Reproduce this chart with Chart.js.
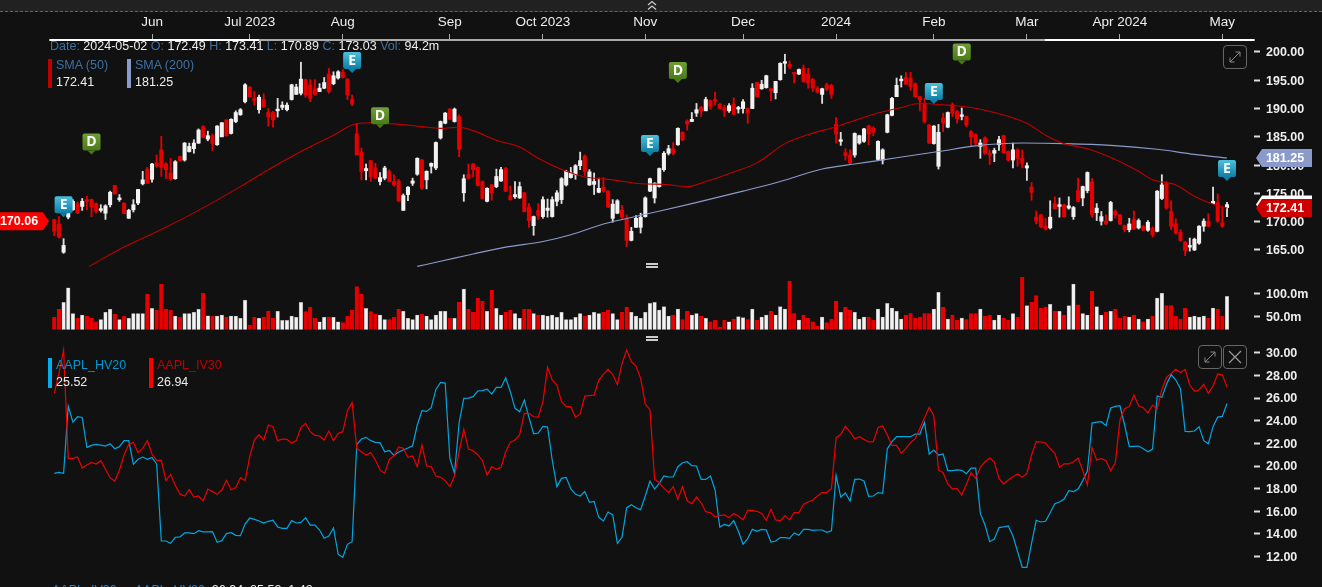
<!DOCTYPE html>
<html>
<head>
<meta charset="utf-8">
<title>AAPL</title>
<script src="https://cdn.jsdelivr.net/npm/chart.js@4/dist/chart.umd.js"></script>
<style>
  html, body { margin: 0; padding: 0; background: #111; overflow: hidden; width: 1322px; height: 587px; }
  #wrap { position: relative; width: 1322px; height: 587px; font: 12.5px "Liberation Sans", Arial, sans-serif; color: #eee; }
  canvas { position: absolute; left: 0; top: 0; }
  .topband { position: absolute; left: 0; top: 0; width: 1322px; height: 11px; background: #212121; border-bottom: 1px dashed #666; }
  .txt { position: absolute; white-space: nowrap; line-height: 14px; }
  .lab { color: #3d70a3; }
  .swatch { position: absolute; width: 4px; }
  .grip { position: absolute; left: 646px; width: 12px; height: 1.5px; background: #ccc; box-shadow: 0 3px 0 #ccc; }
  .btn { position: absolute; width: 22px; height: 22px; border: 1px solid #666; border-radius: 4px; }
  svg { position: absolute; }
</style>
</head>
<body>
<div id="wrap">
  <canvas id="chart" width="1322" height="587"></canvas>
  <div class="topband"></div>
  <svg style="left:646px;top:0" width="12" height="11" fill="none" stroke="#ccc" stroke-width="1.2"><polyline points="2,5 6,1.5 10,5"/><polyline points="2,9.5 6,6 10,9.5"/></svg>

  <div class="txt" style="left:50px;top:39px"><span class="lab">Date:</span> 2024-05-02 <span class="lab">O:</span> 172.49 <span class="lab">H:</span> 173.41 <span class="lab">L:</span> 170.89 <span class="lab">C:</span> 173.03 <span class="lab">Vol:</span> 94.2m</div>

  <div class="swatch" style="left:48px;top:59px;height:29px;background:#c00000"></div>
  <div class="txt lab" style="left:56px;top:58px">SMA (50)</div>
  <div class="txt" style="left:56px;top:75px">172.41</div>
  <div class="swatch" style="left:127px;top:59px;height:29px;background:#8a9bcb"></div>
  <div class="txt lab" style="left:135px;top:58px">SMA (200)</div>
  <div class="txt" style="left:135px;top:75px">181.25</div>

  <div class="swatch" style="left:48px;top:358px;height:30px;background:#00aeef"></div>
  <div class="txt" style="left:56px;top:358px;color:#0097d0">AAPL_HV20</div>
  <div class="txt" style="left:56px;top:375px">25.52</div>
  <div class="swatch" style="left:149px;top:358px;height:30px;background:#f00"></div>
  <div class="txt" style="left:157px;top:358px;color:#c00000">AAPL_IV30</div>
  <div class="txt" style="left:157px;top:375px">26.94</div>

  <div class="grip" style="top:263px"></div>
  <div class="grip" style="top:336px"></div>

  <div class="btn" style="left:1223px;top:45px"></div>
  <svg style="left:1223px;top:45px" width="24" height="24" fill="none" stroke="#888" stroke-width="1"><path d="M7 17 L17 7 M12.5 7 H17 V11.5 M7 12.5 V17 H11.5"/></svg>
  <div class="btn" style="left:1198px;top:345px"></div>
  <svg style="left:1198px;top:345px" width="24" height="24" fill="none" stroke="#888" stroke-width="1"><path d="M7 17 L17 7 M12.5 7 H17 V11.5 M7 12.5 V17 H11.5"/></svg>
  <div class="btn" style="left:1223px;top:345px"></div>
  <svg style="left:1223px;top:345px" width="24" height="24" fill="none" stroke="#999" stroke-width="1.2"><path d="M6 6 L18 18 M18 6 L6 18"/></svg>

  <div class="txt" style="left:52px;top:583px"><span style="color:#2f7fc0">AAPL_IV30</span> &nbsp;- &nbsp;<span style="color:#2f7fc0">AAPL_HV20</span> &nbsp;26.94 &nbsp;25.52 &nbsp;1.42</div>
</div>

<script>
const monthIdx = [21, 42, 62, 85, 105, 127, 148, 168, 189, 209, 229, 251]
const monthLabels = ['Jun', 'Jul 2023', 'Aug', 'Sep', 'Oct 2023', 'Nov', 'Dec', '2024', 'Feb', 'Mar', 'Apr 2024', 'May']
const priceTicks = [200, 195, 190, 185, 180, 175, 170, 165]
const volumeTicks = [100, 50]
const ivTicks = [30, 28, 26, 24, 22, 20, 18, 16, 14, 12]

const opens = [
  170.35,169.6,164.6,170.8,172.1,173.2,172.7,173.9,173.9,173.2,
  172,171.5,173,176.4,173.9,173.3,170.6,172.1,173.3,176.7,
  179.3,177.5,180.4,182.7,180.2,178.6,177.6,181.5,180.9,182.4,
  182.9,183.9,186.8,184.6,185.2,183.6,185,188,185.6,187.7,
  188.9,191.2,193.8,191.8,189.8,191.6,189.3,189.3,189.6,190.2,
  189.8,191.6,192.5,192.7,195.1,194.2,193.5,193,193.6,196.1,
  194.4,195.4,196.4,195.2,191.6,185.5,182.3,179,180.8,179.5,
  177.1,177.7,178.9,177.1,177.2,172,174.8,176.8,178.4,180.9,
  177.4,179.8,179.5,184.8,187.4,189.9,187.7,188.6,175.1,178.3,
  180.2,179.6,177.1,173.6,176.5,176.2,177.2,179.4,174.6,174.4,
  174.2,175.1,172.6,169.3,172,170.9,172,170.9,173.6,173.9,
  176.5,177.8,178.3,179.9,181.6,176.5,176.6,175.2,176.1,175.4,
  170.6,171.5,172,170.5,166.7,169,169,170.9,175.4,174.2,
  176.2,179.2,182.1,182.9,183.6,185.8,187.8,187.7,189.2,190.2,
  189.6,191.4,191.6,190.8,190.2,189.6,190.8,189.9,190,190,
  190,194.6,193.5,193.7,193.5,192.8,195.1,198,197.8,196.4,
  196.1,197.1,196.1,195.2,193.6,192.5,194.2,194.1,187.2,184.2,
  182.2,181.8,181.8,183.9,184.2,186.9,186.5,181,180.9,185.8,
  188.8,192.1,194.9,195.5,195.4,194.4,192.1,190.9,187.1,183.8,
  179.8,188.3,186.7,190.7,189.5,188.6,188.6,185.9,185.4,183.3,
  184.8,182.1,182.1,183.6,185.2,182.4,180.9,182.7,181.2,179.5,
  176.1,170.8,171.2,169.2,168.9,173.2,172.7,173,172.4,170.9,
  175.5,174.2,175.5,177,171.6,170.1,170.1,170.2,171.8,171.2,
  169.3,168.6,170.4,168.9,169.2,168.5,168.8,168.3,174.1,176.8,
  171.8,169.6,168.1,166.4,165.5,165,166.2,169.2,170.1,173.2,
  173.4,169.8,172.49
]
const highs = [
  170.4,170.9,167,171.5,173.9,173.5,174.1,174.5,174,173.3,
  173,173,175.4,176.4,174.8,173.3,172.2,173.9,175.7,178.9,
  179.6,180.3,181.8,185.1,180.4,181.2,180.8,181.6,184,183.9,
  184.5,186.4,187,186,185.5,187,187.5,188,188.2,189.6,
  190,194.4,193.9,193,192.4,192.6,190,189.5,191.8,191.2,
  191,194.3,194.3,198.2,195.2,195.1,195.1,194.4,195.5,197.1,
  196.5,196.7,196.9,195.3,192.4,187.4,183,180.2,180.8,180.3,
  178.7,179.8,179.2,178.3,177.5,174.9,176.2,177.7,181.3,181,
  179,180.4,184.1,187.8,189.3,190,190.1,188.9,178.3,180.2,
  180.3,179.7,177.2,176,176.6,179.3,179.6,179.6,176.3,177.1,
  177,175.2,173.2,171,173.2,174.4,174,174.4,175.5,177.8,
  179.1,179.6,180.1,182.3,181.8,179.2,178.6,177.7,177.8,175.5,
  173.9,173.9,172.9,171.2,169,171.1,171.5,174.4,177.7,176.9,
  179.5,182.4,183.5,184,186.6,185.9,188,189.3,190.9,190.4,
  192,191.5,192.9,190.9,190.6,190.9,191.9,190.4,191.6,190.1,
  194.4,194.7,195,195.9,193.6,194.8,198.1,199.6,198.4,196.4,
  197,197.7,197.1,195.3,193.9,193.6,194.5,194.3,188.4,185.8,
  182.9,182.7,185.7,185.3,186.5,187.1,186.8,184.3,182.9,189,
  192,195.4,195.8,196.4,196.4,194.5,192.2,191.8,187.2,187,
  187.2,189.2,189.4,191,189.7,190.1,188.7,186.1,185.5,184.5,
  185,182.7,183,185.1,185.3,182.5,183.9,182.9,182.7,180.4,
  176.9,171.9,171.3,170.6,173.7,174.4,174.2,173.1,174.4,172.7,
  177.7,176.3,178.8,177.6,173.2,171.8,171.2,173.6,172.1,171.3,
  169.4,170.6,171.9,170.5,169.3,170.2,169.1,175.5,178.3,177.1,
  173.7,170.5,168.6,166.5,167.1,167.1,169.3,170.5,171.4,176.1,
  174.9,172.6,173.41
]
const lows = [
  167.5,167.1,164.4,170.5,172,171.4,172,172.1,170.9,171.5,
  171.7,170.4,172.6,174.9,173.6,171.4,170.6,171.7,173,176.5,
  176.8,177,179.6,178,177.6,177.3,177.5,180.7,180.7,182.3,
  182.1,183.8,184.8,184.3,182.6,183.5,185,185.1,185.5,187.5,
  188.8,191,192,190.6,189.2,190.2,186.9,186.7,188.5,189.8,
  189.6,191.5,192.5,192.4,192,191.2,192.4,193,193.5,192.7,
  194.2,195.2,195.4,191.6,190.5,181.8,177.4,177.4,177.1,177.6,
  176.5,177.4,177,176.3,173.5,172,173.7,176.4,178.2,175.7,
  175.8,178.6,179.2,184.6,187.3,188,187.6,181.5,173.6,177.5,
  177.9,176.3,174,173.5,173.8,176,177.1,175.3,173.8,174.1,
  174.1,171.7,169,167.6,170.4,170.6,170.8,170.8,172.8,173.2,
  176.3,177.7,177.5,179.2,178.1,176.4,174.8,175.1,175.2,172.5,
  169.9,171.4,170.5,165.6,166.6,169,168,170.8,175.3,173.3,
  176.1,178.9,181.8,181.8,183.5,184.3,186.2,187.7,188.6,188.6,
  189.6,189.9,190.6,189.9,188.6,189.3,188.9,189.2,189.2,187.4,
  190,192,193.4,193.6,191.4,191.7,195,196.2,197,194.5,
  196,194.6,193.6,193,192.7,190.9,193.2,191.8,183.9,183.5,
  180.9,180.1,181.4,183.7,184,183.6,185.2,180.8,180.2,185.7,
  188.7,192.1,193.8,194.3,193.2,192,189.6,187.4,183.8,183.7,
  179.3,185.9,186.6,188.6,187.4,188,186.8,183.4,183.6,181.2,
  181.9,180.1,180.6,182.6,182.1,180.7,179.5,179.8,179.5,177.3,
  173.8,169.6,168.9,168.5,168.7,172.2,170.8,170.8,172.2,170.4,
  173.5,172.8,175.1,170.8,170.2,169.4,169.5,170.1,170.6,169.5,
  168.2,168.2,168.6,168.7,168.4,168.3,167.3,168.2,173.9,172.2,
  168.6,167.8,166.5,164,164.8,164.9,166,168.3,169.1,173.2,
  169.9,169,170.89
]
const closes = [
  168.3,167.3,165.8,171.5,173.6,171.5,173.6,173.6,172.6,171.8,
  172.3,172.8,175.2,174.9,174.2,171.4,172,173,175.7,177.4,
  176.8,180.2,179.8,179.6,179.2,177.5,180.6,180.8,183.9,183.3,
  183.9,186.2,184.9,185.2,183.8,186.9,187.5,185.2,188.1,189.3,
  189.8,194.2,192.1,191.4,192,190.3,188.5,188,189.9,190.6,
  190.6,194.2,193.8,195.2,192.4,191.8,192.5,193.6,194.6,193,
  195.8,196.5,195.5,192.4,190.8,181.8,178.9,179.4,177.9,177.7,
  177.8,179.5,177.1,176.5,173.7,174.6,176.1,177.2,181.2,175.9,
  178.9,180.3,184,187.7,189.2,188.1,189.9,182.8,177.6,177.7,
  179.2,176.4,174.1,175.9,175.1,178,179.2,175.4,173.9,174.8,
  176.2,171.8,170.2,170.9,171.1,173.9,172.4,173.9,175.1,177.6,
  178.9,178.6,179.9,180.8,178.9,178.8,177.1,175.9,175.4,172.6,
  173.1,173.7,170.8,166.7,168.3,170.6,170.8,174.2,177.6,176.8,
  179.4,182.1,182.9,182.1,186.5,184.5,187.3,188.1,189.8,189.6,
  191.6,190.4,191.4,190,189.6,190.5,189,190.2,191.2,189.2,
  193.6,192.1,194.3,195.8,193.1,194.8,198,198.3,197.4,196.1,
  196.9,194.8,194.5,193.6,192.9,193.5,193.4,192.5,185.5,184.5,
  181.7,180.4,185.6,185.2,186.4,185.5,185.8,184.2,182.7,188.9,
  191.8,194.1,195.2,194.3,193.9,192.1,191.5,187.7,183.9,186.9,
  185.8,187.5,189.3,189.2,188.2,188.9,187.1,185,183.9,183.9,
  182.1,181.8,182.6,184.5,182.2,180.9,182.7,181.2,180.3,179.9,
  175.2,170.1,169.1,168.7,170.8,172.3,173,170.9,172.8,172.5,
  173.6,176.2,178.7,171.2,172.4,170.9,169.6,173.4,171.2,169.6,
  168.6,169.6,168.7,170.2,168.5,169.9,167.7,175.4,176.5,172.4,
  169.2,168,166.7,164.9,165.8,166.9,169.2,170.1,169.2,173.6,
  170.1,169.2,173.03
]
const volume = [
  48.6,66,81,113,57,46.4,53.7,51.5,46.4,39,
  44,59.5,66,55.9,44,51.5,46.4,57,57,57,
  98.6,68,64.5,121,66,64.5,51.5,48.6,57,57,
  59.5,66,100.8,52,51.5,51.5,53.7,48.6,51.5,51.5,
  46.4,86,32,48.6,46.4,48.6,62.4,46.4,61.7,42,
  42,51.5,48.6,81,61,70.3,46.4,39,48.6,48.6,
  48.6,39,37,51.5,64.5,115.3,98.6,68,61,55.9,
  53.7,44,44,48.6,66,61.7,46.4,44,53.7,55.9,
  51.5,44,53.7,61.7,61.7,46.4,46.4,81,110,66,
  59.5,90.6,83.4,61.7,108,68,53.7,59.5,64.5,57,
  46.4,66,66,57,53.7,53.7,51.5,53.7,48.6,59.5,
  44,44,48.6,57,51.5,53.7,59.5,57,59.5,64.5,
  57,44,59.5,71,59.5,51.5,46.4,59.5,79,81,
  64.5,71.8,51.5,53.7,66.7,44,61.7,53.7,57,51.5,
  46.4,39,42.8,26.9,42.8,39,45,50,47.9,44,
  66.7,42.8,49.3,53.7,62.4,53.7,71.8,66.7,127.6,57,
  42.8,53.7,46.4,39,29.7,49.3,37,45,84,59.5,
  70.3,64.5,59.5,45,49.3,49.3,42.8,66.7,49.3,79,
  69,61.7,45,53.7,57,47.2,49.3,57,57,66.7,
  103,71,45,53.7,42.8,47.2,44,57,57,66.7,
  51.5,53.7,42.8,53.7,47.2,42.8,57,49.3,135.6,74,
  81,95.7,69,71,76.9,61.7,61.7,53.7,74,121,
  76,57,53.7,105.9,71.8,53.7,59.5,61.7,66.7,47.2,
  51.5,49.3,53.7,45,39,45,51.5,90.6,100.8,74,
  74,51.5,45,69,49.3,51.5,49.3,51.5,47.2,69,
  66.7,51.5,94.2
]
const hv20 = [
  19.35,19.44,19.35,25.29,23.88,24.35,24.29,21.65,21.82,21.91,
  21.85,21.76,21.97,21.53,21.71,22.24,22.24,20.15,20.59,20.79,
  20.59,20.76,20.18,13.38,13.38,13.18,13.71,13.74,14.09,14.09,
  14.03,14.29,14.18,14.18,14.21,13.26,13.41,14.03,14.12,13.88,
  13.85,14.88,15.41,15.29,15.15,14.97,15.12,15.21,14.62,14.5,
  14.5,15.18,14.97,15.03,15.44,14.79,14.79,14.35,13.62,13.82,
  14.53,12.21,11.94,13.09,13.32,21.91,22.38,22.53,22.24,22.09,
  22.06,21.26,21.38,20.94,21.24,21.41,21.59,21.79,23.62,24.88,
  24.82,25.15,26.76,27.38,27.32,20.68,19.35,23.82,25.97,26,
  26.12,26.62,26.65,26.79,26.35,26.94,26.94,27.79,26.56,25.09,
  24.79,25.82,24.29,22.85,22.91,23.5,23.44,20.53,18.18,18.91,
  19,17.97,17.5,17.35,17.74,16.79,16.88,15.47,15.15,15.94,
  15.68,13.18,13.71,16.32,16.59,16.32,16.15,17.35,18.65,17.97,
  18.47,19.12,19.03,19.03,19.94,20.29,20.38,20.03,20,18.82,
  18.82,19.12,17.88,14.62,14.85,14.71,15.18,14.24,13.09,13.59,
  14.41,14.24,14.41,14.35,13.29,13.38,13.68,13.68,13.62,14.09,
  13.88,14.41,14.41,14.32,14.35,14.35,14.15,14.29,19.15,17.26,
  17.62,16.91,18.82,18.85,18.68,17.32,17.35,17.65,17.59,21.5,
  22.15,22.59,22.59,22.59,22.59,22.82,22.82,23.85,21.06,21.41,
  20.97,21.06,19.59,19.59,19.65,19.62,19.32,19.82,19.82,15.82,
  14.79,13.32,13.56,14.56,14.62,14.71,13.82,12.44,11.06,11.06,
  13.18,15.21,15.06,15.12,15.88,16.68,16.82,17.09,17.82,17.74,
  17.97,18.71,19.56,23.79,23.88,23.91,23.56,25.12,25.26,25.32,
  23.62,21.71,21.74,21.76,21.53,21.26,21.5,26.18,26.06,27.21,
  28.06,27.59,26.82,23.06,23.03,23.09,23.47,22.24,21.97,23.47,
  24.32,24.38,25.52
]
const iv30 = [
  26.41,28.18,30.24,20.68,20.68,20.79,19.82,20.09,20.32,20.18,
  20.47,19.71,18.97,18.65,19.65,20.97,21.91,22.09,21.18,21.56,
  22.24,21.06,20.5,20.5,18.71,19.26,18.29,17.53,17.35,17.91,
  17.26,17.35,16.91,17.97,17.74,17.5,17.88,18.74,17.91,18.09,
  18.97,18.71,20.82,22.32,22.76,22.29,23.62,23.47,22.24,22.38,
  22.35,22,22.24,23.41,23.76,23.03,22.71,22.65,22.29,23.09,
  22.24,22.88,23.03,24.88,25.62,21.56,21.24,20.97,21.18,20.53,
  19.65,19.35,20.59,20.88,21.68,21.56,20.76,20.88,19.94,21.85,
  20,19.94,19.12,19,18.71,18.18,19.12,21.26,23.24,21.5,
  21.35,21,20.47,19.18,19.94,19.71,19.88,21.26,22.09,22.29,
  22.76,24.65,24.65,24.35,24.32,25.68,28.71,27.59,27.15,25.68,
  25.24,25.24,24.29,24.59,26.18,26.21,26.26,27.59,28.09,28.53,
  28.09,27.18,29.06,30.24,29.21,28.82,27.74,25.47,24.97,18.82,
  18.53,18.03,17.65,18.18,17.06,18.18,16.91,16.68,17.26,16.76,
  15.97,15.88,15.5,15.62,15.68,15.44,15.82,15.59,15.26,16.09,
  16.09,16,15.82,15.21,16.18,15.26,15.15,15.62,15.24,15.88,
  15.88,16.62,16.82,17,17.35,17.65,17.68,18,22.5,22.79,
  23.5,23,22.41,22.59,22.35,22.12,22.15,23.38,23.56,22.74,
  21.82,21.82,21.12,21.56,22.06,22.41,23.32,24.26,25.18,24.44,
  19.65,19.41,18.41,17.97,18.03,17.44,18.38,19.41,18.91,19.88,
  20.38,20.71,20.35,18.91,18.41,18.76,19.06,19.29,19,19.35,
  20.97,22.15,22.12,22.03,21.53,21.12,19.88,20.18,20.18,20.35,
  20.71,19.59,18.32,21.62,20.53,20.65,20.47,19.59,20.29,24.06,
  25.06,25.26,26.26,25.32,25.15,24.68,25.38,25.06,26.76,27.82,
  28.18,28.53,28.24,28.53,27.15,26.59,26.71,27.21,26.41,27.06,
  28.12,28.06,26.94
]

// SMA lines read at the bars where the curve could be read
const sma50Idx = [7.5,14,23,31,40,46,53,60,64,68,73,79,83,87,90,95,100,104,110,114,120,126,131,136,140,146,151,157,162,168,172,177,182,186,192,197,202,209,213,217,222,228,233,236,241,245,248,252]
const sma50 = [162.1,165.1,168.6,172,176.2,179.2,182.4,185.3,187.1,187.5,187.3,186.8,186.5,186.7,186.1,184.4,183.2,181.2,178.9,177.9,177.4,176.7,176.6,176.2,177.1,178.8,180.4,183.8,185.4,186.8,187.9,189.2,190.2,190.9,190.6,190.2,189.3,187.4,185.3,183.8,182.9,181,178.9,177.4,176.5,174.5,173.4,172.41]
const sma200Idx = [78,83,90,97,105,111,118,127,137,148,156,165,172,177,185,190,198,208,217,227,237,245,252]
const sma200 = [162.1,163,164.3,165.5,166.5,167.7,169.6,171.3,173.2,175.4,177.1,179.3,180.2,180.8,181.8,182.4,183.4,183.9,183.8,183.5,182.8,181.9,181.25]

// dividend and earnings flags: bar and the price the pin points at
const earnIdx = [2, 64, 128, 189, 252]
const earnAt = [170.8, 196.3, 181.6, 190.8, 177.2]
const divIdx = [8, 70, 134, 195]
const divAt = [181.9, 186.5, 194.5, 197.8]

const lastPrice = 170.06
const smaLast = 172.41
const smaLongLast = 181.25
const closeLast = 173.03

const RED = '#e60000'
const WHITE = '#f2f2f2'
const isDown = closes.map((c, i) => c < opens[i])
const barColor = isDown.map(d => d ? RED : WHITE)
const bars = closes.map((c, i) => i)

function pin (ctx, x, tip, letter, top, bottom) {
  const g = ctx.createLinearGradient(0, tip - 21, 0, tip - 4)
  g.addColorStop(0, top)
  g.addColorStop(1, bottom)
  ctx.fillStyle = g
  ctx.beginPath()
  ctx.roundRect(x - 9, tip - 21, 18, 17, 2)
  ctx.fill()
  ctx.beginPath()
  ctx.moveTo(x - 4, tip - 4)
  ctx.lineTo(x + 4, tip - 4)
  ctx.lineTo(x, tip)
  ctx.fill()
  ctx.fillStyle = '#fff'
  ctx.font = 'bold 14px "Open Sans"'
  ctx.textAlign = 'center'
  ctx.textBaseline = 'middle'
  ctx.fillText(letter, x, tip - 12)
}

function tag (ctx, y, label, color, textColor, side) {
  ctx.fillStyle = color
  ctx.beginPath()
  if (side === 'left') {
    ctx.moveTo(0, y - 9)
    ctx.lineTo(43, y - 9)
    ctx.lineTo(49, y)
    ctx.lineTo(43, y + 9)
    ctx.lineTo(0, y + 9)
  } else {
    ctx.moveTo(1312, y - 9)
    ctx.lineTo(1262, y - 9)
    ctx.lineTo(1256, y)
    ctx.lineTo(1262, y + 9)
    ctx.lineTo(1312, y + 9)
  }
  ctx.closePath()
  ctx.fill()
  if (!label) return
  ctx.fillStyle = textColor
  ctx.font = 'bold 12.5px "Liberation Sans"'
  ctx.textAlign = 'center'
  ctx.textBaseline = 'middle'
  ctx.fillText(label, side === 'left' ? 19 : 1285, y + 0.5)
}

const overlays = {
  id: 'overlays',
  afterDraw (chart) {
    const { ctx, scales } = chart
    ctx.save()
    // brighter ends of the top rule
    ctx.fillStyle = '#fff'
    ctx.fillRect(50, 39, 209, 2)
    ctx.fillRect(1045, 39, 209, 2)

    earnIdx.forEach((b, i) => pin(ctx, scales.x.getPixelForValue(b), scales.price.getPixelForValue(earnAt[i]), 'E', '#4cc0dc', '#0f7ea6'))
    divIdx.forEach((b, i) => pin(ctx, scales.x.getPixelForValue(b), scales.price.getPixelForValue(divAt[i]), 'D', '#6f9f35', '#4a7a18'))

    tag(ctx, scales.price.getPixelForValue(lastPrice), lastPrice.toFixed(2), '#ff0000', '#fff', 'left')
    tag(ctx, scales.price.getPixelForValue(smaLongLast), smaLongLast.toFixed(2), '#8a9bcb', '#fff', 'right')
    tag(ctx, scales.price.getPixelForValue(closeLast), '', '#ffffff', '#fff', 'right')
    tag(ctx, scales.price.getPixelForValue(smaLast), smaLast.toFixed(2), '#cc0000', '#fff', 'right')
    ctx.restore()
  }
}

function yScale (stackWeight, min, max, tickValues, fmt) {
  return {
    type: 'linear',
    position: 'right',
    stack: 'panes',
    stackWeight,
    min,
    max,
    grid: { drawOnChartArea: false, drawTicks: true, tickLength: 6, tickColor: '#dddddd', tickWidth: 2 },
    border: { display: false },
    afterBuildTicks: scale => { scale.ticks = tickValues.map(v => ({ value: v })) },
    afterFit: scale => {
      scale.width = 68
      // no room kept for half a tick label, the panes fill the whole height
      scale.paddingTop = 0
      scale.paddingBottom = 0
    },
    ticks: {
      color: '#eeeeee',
      padding: 6,
      labelOffset: 1,
      autoSkip: false,
      font: { family: '"Liberation Sans"', size: 12.5, weight: 'bold' },
      callback: fmt
    }
  }
}

const ctx = document.getElementById('chart').getContext('2d')
new Chart(ctx, {
  type: 'bar',
  data: {
    datasets: [
      { label: 'wick', yAxisID: 'price', order: 6, grouped: false, barThickness: 1.2, data: bars.map(i => ({ x: i, y: [lows[i], highs[i]] })), backgroundColor: isDown.map(d => d ? RED : '#dddddd') },
      { label: 'candle', yAxisID: 'price', order: 5, grouped: false, barThickness: 3.4, data: bars.map(i => ({ x: i, y: [opens[i], closes[i]] })), backgroundColor: barColor },
      { type: 'line', label: 'SMA (50)', yAxisID: 'price', order: 3, data: sma50Idx.map((x, i) => ({ x, y: sma50[i] })), borderColor: '#c00000', borderWidth: 1.1, pointRadius: 0, cubicInterpolationMode: 'monotone' },
      { type: 'line', label: 'SMA (200)', yAxisID: 'price', order: 3, data: sma200Idx.map((x, i) => ({ x, y: sma200[i] })), borderColor: '#8a9bcb', borderWidth: 1.1, pointRadius: 0, cubicInterpolationMode: 'monotone' },
      { label: 'Vol', yAxisID: 'vol', order: 4, grouped: false, barThickness: 3.6, data: bars.map(i => ({ x: i, y: volume[i] })), backgroundColor: barColor, borderColor: isDown.map(d => d ? RED : '#999999'), borderWidth: 0.6 },
      { type: 'line', label: 'AAPL_HV20', yAxisID: 'iv', order: 2, data: bars.map(i => ({ x: i, y: hv20[i] })), borderColor: '#00a6e0', borderWidth: 1.2, pointRadius: 0 },
      { type: 'line', label: 'AAPL_IV30', yAxisID: 'iv', order: 1, data: bars.map(i => ({ x: i, y: iv30[i] })), borderColor: '#ee0000', borderWidth: 1.2, pointRadius: 0 }
    ]
  },
  options: {
    responsive: false,
    animation: false,
    devicePixelRatio: 1,
    events: [],
    layout: { padding: { left: 50, right: 0, top: 0, bottom: 0 } },
    plugins: { legend: { display: false }, tooltip: { enabled: false } },
    scales: {
      x: {
        type: 'linear',
        position: 'top',
        min: -0.92,
        max: 257.8,
        offset: false,
        grid: { drawOnChartArea: false, offset: false, tickLength: 6, tickColor: '#aaaaaa', tickWidth: 1 },
        border: { color: '#aaaaaa', width: 2 },
        afterBuildTicks: scale => { scale.ticks = monthIdx.map(v => ({ value: v })) },
        afterFit: scale => {
          scale.height = 40
          scale.paddingLeft = 0
          scale.paddingRight = 0
        },
        ticks: {
          color: '#eeeeee',
          padding: 4,
          autoSkip: false,
          maxRotation: 0,
          font: { family: '"Liberation Sans"', size: 13.5 },
          callback: v => monthLabels[monthIdx.indexOf(v)]
        }
      },
      price: yScale(227, 161.99, 202.12, priceTicks, v => v.toFixed(2)),
      vol: yScale(62.5, 22.17, 158.04, volumeTicks, v => v.toFixed(1) + 'm'),
      iv: yScale(257.5, 9.32, 32.05, ivTicks, v => v.toFixed(2))
    }
  },
  plugins: [overlays]
})
</script>
</body>
</html>
